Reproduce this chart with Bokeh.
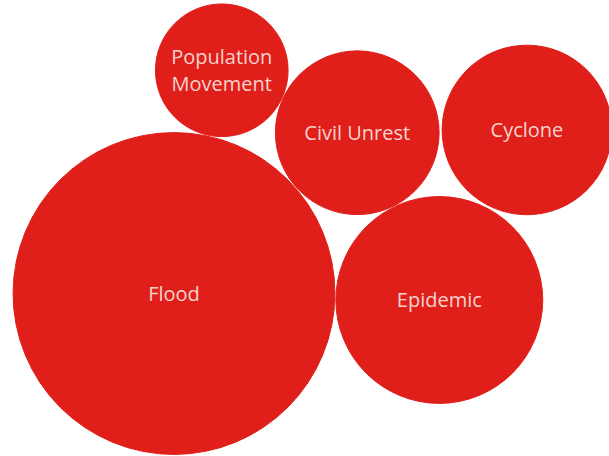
import math
from bokeh.plotting import figure
from bokeh.models import ColumnDataSource, Range1d
from bokeh.embed import file_html
from bokeh.resources import INLINE
from bokeh.core.properties import value

# ---- data ----
categories = ["Flood", "Epidemic", "Civil Unrest", "Cyclone", "Population Movement"]
labels = ["Flood", "Epidemic", "Civil Unrest", "Cyclone", "Population\nMovement"]
counts = [259, 107, 67, 72, 44]

# ---- layout (packed bubbles, each placed tangent to earlier ones) ----
SCALE = 10.0            # radius = SCALE * sqrt(count)
ANCHOR = (173.5, 293.0) # centre of the first (largest) bubble, screen px
FIRST_ANGLE = 1.4       # degrees, direction of 2nd bubble from 1st
GAP = 1.0
# (child, parentA, parentB, side(+1 = above/right of A->B), extra gap)
placements = [
    ("Civil Unrest", "Flood", "Epidemic", 1, GAP),
    ("Cyclone", "Civil Unrest", "Epidemic", 1, 3.0),
    ("Population Movement", "Flood", "Civil Unrest", 1, GAP),
]

rad = {c: SCALE * math.sqrt(v) for c, v in zip(categories, counts)}
pos = {}
pos[categories[0]] = ANCHOR
d0 = rad[categories[0]] + rad[categories[1]] + GAP
a0 = math.radians(FIRST_ANGLE)
pos[categories[1]] = (ANCHOR[0] + d0 * math.cos(a0), ANCHOR[1] + d0 * math.sin(a0))


def tangent(pa, ra, pb, rb, rc, side, gap):
    dA = ra + rc + gap
    dB = rb + rc + gap
    dx, dy = pb[0] - pa[0], pb[1] - pa[1]
    d = math.hypot(dx, dy)
    ux, uy = dx / d, dy / d
    a = (dA ** 2 - dB ** 2 + d ** 2) / (2 * d)
    h = math.sqrt(max(dA ** 2 - a ** 2, 0))
    px, py = pa[0] + a * ux, pa[1] + a * uy
    return (px + side * uy * h, py - side * ux * h)


for child, A, B, side, g in placements:
    pos[child] = tangent(pos[A], rad[A], pos[B], rad[B], rad[child], side, g)

xs = [pos[c][0] for c in categories]
ys = [pos[c][1] for c in categories]
rs = [rad[c] for c in categories]

src = ColumnDataSource(dict(x=xs, y=ys, r=rs, label=labels, cat=categories))

W, H = 609, 456
X0, Y0 = 0, 0
p = figure(width=W, height=H, output_backend="svg", toolbar_location=None,
           x_range=Range1d(X0, X0 + W), y_range=Range1d(Y0 + H, Y0),
           min_border=0, background_fill_color="white", border_fill_color="white")
p.outline_line_color = None
p.axis.visible = False
p.grid.visible = False

p.circle(x="x", y="y", radius="r", source=src, fill_color="#e01f1a",
         line_color="#e01f1a", line_width=1)
p.text(x="x", y="y", text="label", source=src, text_align="center",
       text_baseline="middle", text_color="#f7d3ce",
       text_font=value("Open Sans"), text_font_size="20px",
       text_line_height=1.0)

open("out.html", "w").write(file_html(p, INLINE))
